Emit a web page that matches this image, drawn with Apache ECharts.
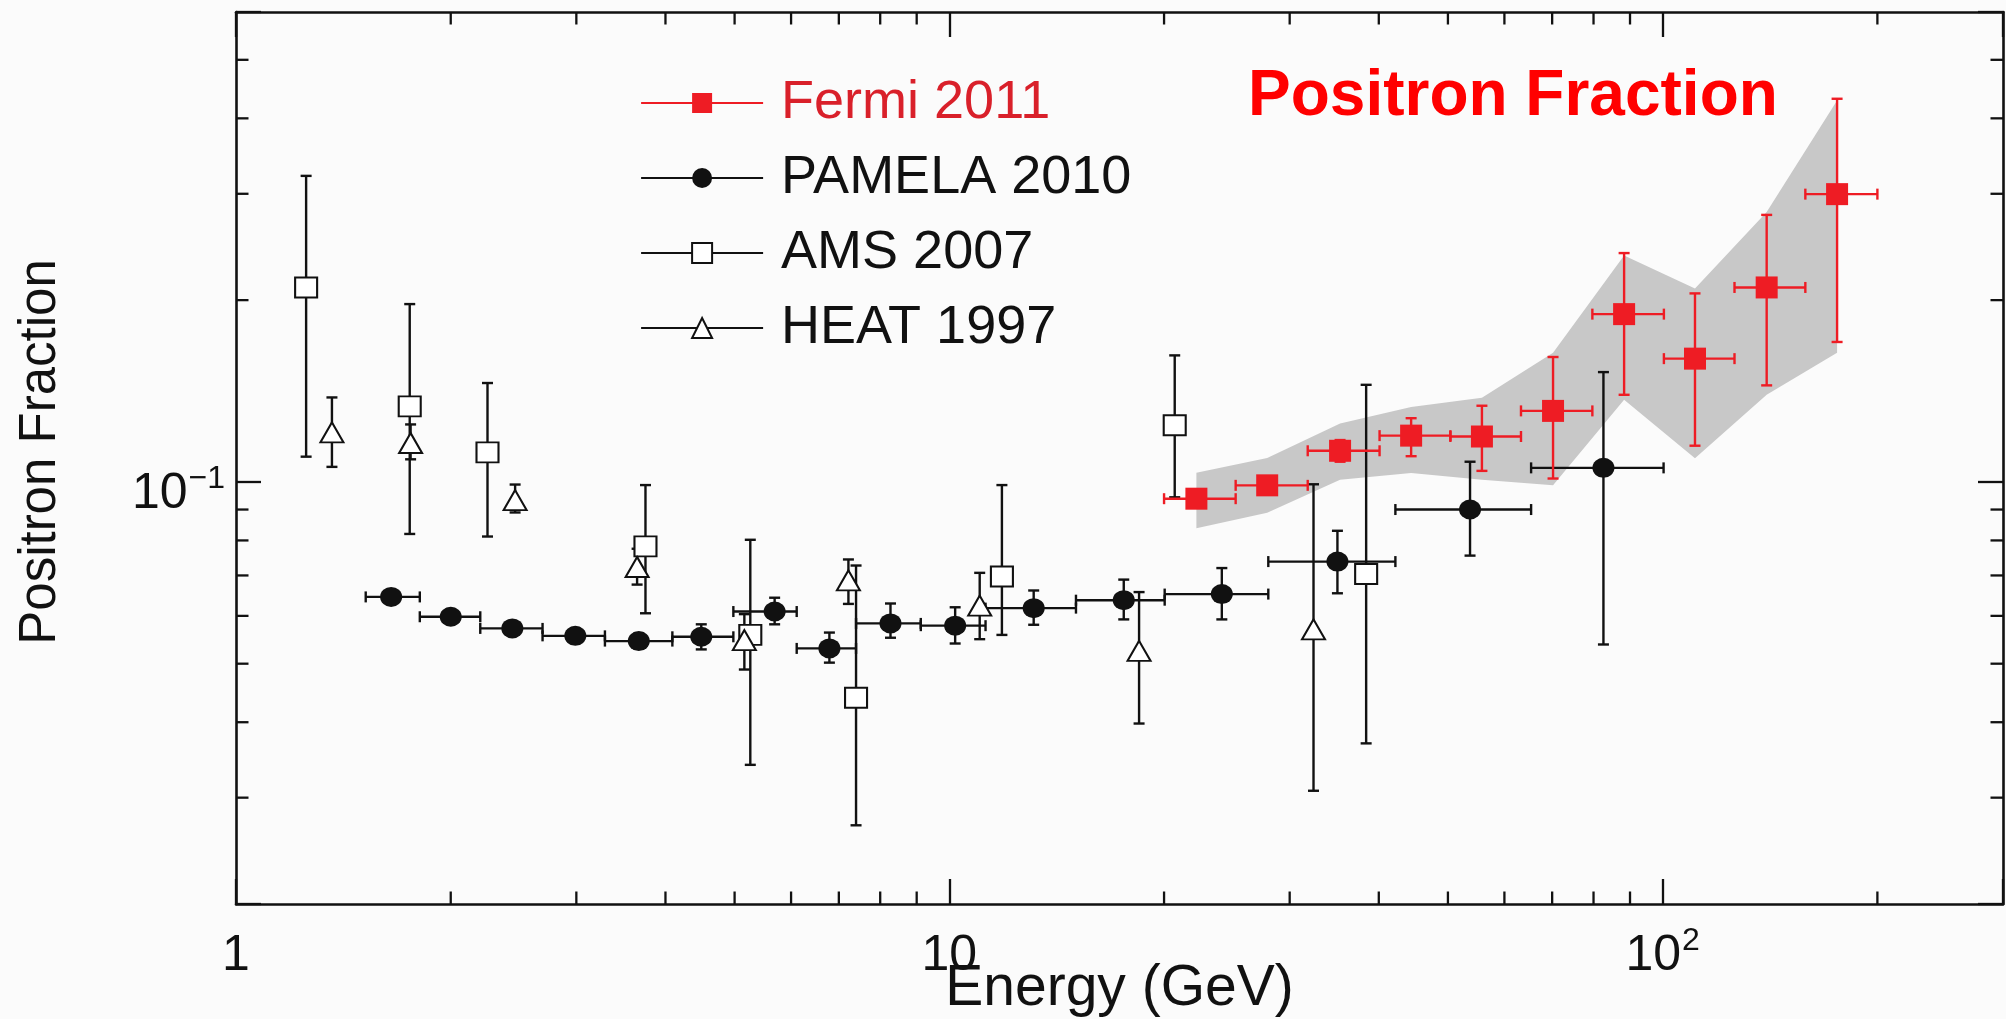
<!DOCTYPE html>
<html>
<head>
<meta charset="utf-8">
<script src="https://cdn.jsdelivr.net/npm/echarts@6/dist/echarts.min.js"></script>
<style>
  html, body { margin: 0; padding: 0; background: #fbfbfb; }
  #chart { width: 2006px; height: 1019px; }
</style>
</head>
<body>
<div id="chart"></div>
<script>
// ---- Fermi 2011 (energy bins in GeV, positron fraction with error bars) ----
const fermiEnergy       = [22.2, 27.9, 35.3, 44.4, 55.8, 70.2, 88.3, 111, 139.9, 175.6];
const fermiEnergyLow    = [20.0, 25.2, 31.8, 40.1, 50.4, 63.3, 79.7, 100.4, 126.1, 158.5];
const fermiEnergyHigh   = [25.2, 31.8, 40.1, 50.4, 63.3, 79.7, 100.4, 126.1, 158.5, 200];
const fermiFraction     = [0.0938, 0.0987, 0.1126, 0.1193, 0.1189, 0.1311, 0.1896, 0.160, 0.2099, 0.2996];
const fermiFractionLow  = [0.0922, 0.0971, 0.1080, 0.1103, 0.1043, 0.1013, 0.1394, 0.1148, 0.1445, 0.1705];
const fermiFractionHigh = [0.0954, 0.1003, 0.1173, 0.1275, 0.1337, 0.1610, 0.2393, 0.2052, 0.2768, 0.4310];

// systematic uncertainty band around the Fermi points
const bandEnergy = [22.2, 27.9, 35.3, 44.4, 55.8, 70.2, 88.3, 111, 139.9, 175.6];
const bandUpper  = [0.1036, 0.1095, 0.125, 0.133, 0.1378, 0.1636, 0.237, 0.209, 0.280, 0.428];
const bandLower  = [0.0838, 0.0889, 0.1008, 0.1035, 0.1008, 0.0987, 0.1368, 0.1094, 0.1394, 0.1636];

// ---- PAMELA 2010 ----
const pamelaEnergy       = [1.65, 2.0, 2.44, 2.99, 3.67, 4.49, 5.69, 6.79, 8.27, 10.19, 13.13, 17.56, 24.1, 35.0, 53.7, 82.6];
const pamelaEnergyLow    = [1.52, 1.81, 2.20, 2.69, 3.29, 4.09, 4.98, 6.11, 7.40, 9.12, 11.24, 15.05, 20.04, 28.0, 42.2, 65.4];
const pamelaEnergyHigh   = [1.81, 2.20, 2.69, 3.29, 4.09, 4.98, 6.11, 7.40, 9.12, 11.24, 15.05, 20.04, 28.0, 42.2, 65.4, 100.3];
const pamelaFraction     = [0.0645, 0.0598, 0.0572, 0.0556, 0.0545, 0.0554, 0.0610, 0.0530, 0.0583, 0.0578, 0.0618, 0.0637, 0.0652, 0.0738, 0.0900, 0.1055];
const pamelaFractionLow  = [0.0628, 0.0582, 0.0557, 0.0541, 0.0530, 0.0528, 0.0581, 0.0502, 0.0552, 0.0540, 0.0580, 0.0592, 0.0592, 0.0654, 0.0755, 0.0538];
const pamelaFractionHigh = [0.0662, 0.0614, 0.0588, 0.0571, 0.0561, 0.0581, 0.0643, 0.0563, 0.0629, 0.0620, 0.0661, 0.0689, 0.0720, 0.0830, 0.1080, 0.1520];

// ---- AMS 2007 ----
const amsEnergy       = [1.254, 1.752, 2.252, 3.75, 5.26, 7.40, 11.85, 20.7, 38.4];
const amsFraction     = [0.2099, 0.1334, 0.1119, 0.0782, 0.0558, 0.0439, 0.0697, 0.1241, 0.0704];
const amsFractionLow  = [0.1101, 0.0820, 0.0812, 0.0606, 0.0340, 0.0270, 0.0558, 0.0943, 0.0369];
const amsFractionHigh = [0.3212, 0.1970, 0.1458, 0.0988, 0.0802, 0.0727, 0.0988, 0.1620, 0.1448];

// ---- HEAT 1997 ----
const heatEnergy       = [1.363, 1.757, 2.462, 3.65, 5.16, 7.22, 11.03, 18.45, 32.4];
const heatFraction     = [0.1208, 0.1160, 0.0933, 0.0723, 0.0547, 0.0687, 0.0624, 0.0525, 0.0570];
const heatFractionLow  = [0.1059, 0.1090, 0.0890, 0.0676, 0.0489, 0.0628, 0.0549, 0.0398, 0.0308];
const heatFractionHigh = [0.1380, 0.1245, 0.0990, 0.0775, 0.0604, 0.0744, 0.0707, 0.0657, 0.0991];

// ---- axes ----
const energyRange   = [1, 300];
const fractionRange = [0.02, 0.6];
const energyTicks    = [1, 10, 100];
const energyTickText = [['1'], ['10'], ['10', '2']];      // [mantissa, exponent]
const fractionTicks    = [0.1];
const fractionTickText = [['10', '\u22121']];
const energyMinorTicks   = [2, 3, 4, 5, 6, 7, 8, 9, 20, 30, 40, 50, 60, 70, 80, 90, 200];
const fractionMinorTicks = [0.03, 0.04, 0.05, 0.06, 0.07, 0.08, 0.09, 0.2, 0.3, 0.4, 0.5];

const RED = '#ee1c24';
const INK = '#111111';
const FONT = '"Liberation Sans", Arial, Helvetica, sans-serif';

function tickFormatter(ticks, texts) {
  return function (v) {
    for (let i = 0; i < ticks.length; i++) {
      if (Math.abs(Math.log10(v) - Math.log10(ticks[i])) < 1e-6) {
        const t = texts[i];
        return t.length > 1 ? '{b|' + t[0] + '}{s|' + t[1] + '}' : '{b|' + t[0] + '}';
      }
    }
    return '';
  };
}

// mantissa sits in a tall line box, exponent is pinned near its top
const labelRich = {
  b: { fontFamily: FONT, fontSize: 50, color: INK, lineHeight: 62 },
  s: { fontFamily: FONT, fontSize: 32, color: INK, verticalAlign: 'top', lineHeight: 26, padding: [0, 0, 0, 1] }
};

function rows(a, b, c, d, e, f) {
  return a.map((v, i) => f ? [v, b[i], c[i], d[i], e[i], f[i]] : [v, b[i], c[i], d[i]]);
}

// vertical (and optional horizontal) error bars with end caps
function errorBars(color, withX) {
  return function (params, api) {
    const x = api.value(0), y = api.value(1);
    const style = { stroke: color, lineWidth: 2.4, fill: null };
    const cap = 5.5;
    const lo = api.coord([x, api.value(2)]);
    const hi = api.coord([x, api.value(3)]);
    const children = [
      { type: 'line', shape: { x1: lo[0], y1: lo[1], x2: hi[0], y2: hi[1] }, style },
      { type: 'line', shape: { x1: lo[0] - cap, y1: lo[1], x2: lo[0] + cap, y2: lo[1] }, style },
      { type: 'line', shape: { x1: hi[0] - cap, y1: hi[1], x2: hi[0] + cap, y2: hi[1] }, style }
    ];
    if (withX) {
      const l = api.coord([api.value(4), y]);
      const r = api.coord([api.value(5), y]);
      children.push(
        { type: 'line', shape: { x1: l[0], y1: l[1], x2: r[0], y2: r[1] }, style },
        { type: 'line', shape: { x1: l[0], y1: l[1] - cap, x2: l[0], y2: l[1] + cap }, style },
        { type: 'line', shape: { x1: r[0], y1: r[1] - cap, x2: r[0], y2: r[1] + cap }, style }
      );
    }
    return { type: 'group', children };
  };
}

function markerSeries(name, xs, ys, symbol, size, color, z, filled) {
  return {
    type: 'line', name, z, silent: true,
    data: xs.map((v, i) => [v, ys[i]]),
    symbol, symbolSize: size, showSymbol: true,
    lineStyle: { width: 0, opacity: 0, color },
    itemStyle: { color, borderColor: color, borderWidth: filled ? 0 : 2.4 },
    emphasis: { disabled: true }
  };
}

const axisLineStyle = { color: INK, width: 2.6 };
const majorTick = { show: true, inside: true, length: 25, lineStyle: { color: INK, width: 2.3 } };

const chart = echarts.init(document.getElementById('chart'), null, { renderer: 'canvas' });

chart.setOption({
  animation: false,
  backgroundColor: '#fbfbfb',
  title: {
    text: 'Positron Fraction',
    left: 1243, top: 60,
    textStyle: { fontFamily: FONT, fontSize: 64, fontWeight: 'bold', color: '#ff0000' }
  },
  legend: {
    orient: 'vertical',
    left: 635, top: 71,
    itemWidth: 122, itemHeight: 25, itemGap: 21,
    selectedMode: false,
    textStyle: { fontFamily: FONT, fontSize: 54, color: INK, padding: [0, 0, 0, 13] },
    lineStyle: { width: 2.2, opacity: 1 },
    data: [
      { name: 'Fermi 2011', textStyle: { color: '#d9202a' } },
      { name: 'PAMELA 2010' },
      { name: 'AMS 2007' },
      { name: 'HEAT 1997' }
    ]
  },
  grid: { left: 236, right: 3, top: 12, bottom: 115, containLabel: false, outerBoundsMode: 'none' },
  xAxis: [
    {
      type: 'log', logBase: 10, min: energyRange[0], max: energyRange[1], position: 'bottom',
      name: 'Energy (GeV)', nameLocation: 'middle', nameGap: 57, nameMoveOverlap: false,
      nameTextStyle: { fontFamily: FONT, fontSize: 57, color: INK },
      axisLine: { show: true, lineStyle: axisLineStyle },
      axisTick: majorTick,
      axisLabel: { show: true, margin: 21, formatter: tickFormatter(energyTicks, energyTickText), rich: labelRich },
      splitLine: { show: false }, minorTick: { show: false }
    },
    {
      type: 'log', logBase: 10, min: energyRange[0], max: energyRange[1], position: 'top',
      axisLine: { show: true, lineStyle: axisLineStyle },
      axisTick: majorTick, axisLabel: { show: false }, splitLine: { show: false }
    }
  ],
  yAxis: [
    {
      type: 'log', logBase: 10, min: fractionRange[0], max: fractionRange[1], position: 'left',
      name: 'Positron Fraction', nameLocation: 'middle', nameGap: 170, nameMoveOverlap: false,
      nameTextStyle: { fontFamily: FONT, fontSize: 51, color: INK, padding: [0, 0, 0, 12] },
      axisLine: { show: true, lineStyle: axisLineStyle },
      axisTick: majorTick,
      axisLabel: { show: true, margin: 11, padding: [24, 0, 0, 0], formatter: tickFormatter(fractionTicks, fractionTickText), rich: labelRich },
      splitLine: { show: false }
    },
    {
      type: 'log', logBase: 10, min: fractionRange[0], max: fractionRange[1], position: 'right',
      axisLine: { show: true, lineStyle: axisLineStyle },
      axisTick: majorTick, axisLabel: { show: false }, splitLine: { show: false }
    }
  ],
  series: [
    {
      // shaded band behind the Fermi points
      type: 'custom', name: 'fermiBand', z: 1, silent: true,
      data: bandEnergy.map((e, i) => [e, bandUpper[i], bandLower[i]]),
      encode: { x: 0, y: [1, 2] },
      renderItem: function (params, api) {
        if (params.dataIndex !== 0) return;
        const pts = [];
        for (let i = 0; i < bandEnergy.length; i++) pts.push(api.coord([bandEnergy[i], bandUpper[i]]));
        for (let i = bandEnergy.length - 1; i >= 0; i--) pts.push(api.coord([bandEnergy[i], bandLower[i]]));
        return { type: 'polygon', shape: { points: pts }, style: { fill: '#c8c8c8' } };
      }
    },
    {
      type: 'custom', name: 'pamelaErrors', z: 3, silent: true,
      data: rows(pamelaEnergy, pamelaFraction, pamelaFractionLow, pamelaFractionHigh, pamelaEnergyLow, pamelaEnergyHigh),
      encode: { x: [0, 4, 5], y: [1, 2, 3] },
      renderItem: errorBars(INK, true)
    },
    {
      type: 'custom', name: 'amsErrors', z: 3, silent: true,
      data: rows(amsEnergy, amsFraction, amsFractionLow, amsFractionHigh),
      encode: { x: 0, y: [1, 2, 3] },
      renderItem: errorBars(INK, false)
    },
    {
      type: 'custom', name: 'heatErrors', z: 3, silent: true,
      data: rows(heatEnergy, heatFraction, heatFractionLow, heatFractionHigh),
      encode: { x: 0, y: [1, 2, 3] },
      renderItem: errorBars(INK, false)
    },
    markerSeries('PAMELA 2010', pamelaEnergy, pamelaFraction, 'circle', [22, 20], INK, 4, true),
    markerSeries('AMS 2007', amsEnergy, amsFraction, 'emptyRect', [22, 20], INK, 4, false),
    markerSeries('HEAT 1997', heatEnergy, heatFraction, 'emptyTriangle', [23, 20], INK, 4, false),
    {
      type: 'custom', name: 'fermiErrors', z: 5, silent: true,
      data: rows(fermiEnergy, fermiFraction, fermiFractionLow, fermiFractionHigh, fermiEnergyLow, fermiEnergyHigh),
      encode: { x: [0, 4, 5], y: [1, 2, 3] },
      renderItem: errorBars(RED, true)
    },
    markerSeries('Fermi 2011', fermiEnergy, fermiFraction, 'rect', [22, 22], RED, 6, true),
    {
      // minor ticks of the log energy axis, bottom and top frame
      type: 'custom', name: 'energyMinor', z: 7, silent: true, clip: false,
      data: energyMinorTicks.map(v => [v, 0.1]),
      renderItem: function (params, api) {
        const px = api.coord([api.value(0), 0.1])[0];
        const cs = params.coordSys;
        const style = { stroke: INK, lineWidth: 2.3 };
        return { type: 'group', children: [
          { type: 'line', shape: { x1: px, y1: cs.y + cs.height, x2: px, y2: cs.y + cs.height - 12.5 }, style },
          { type: 'line', shape: { x1: px, y1: cs.y, x2: px, y2: cs.y + 12.5 }, style }
        ] };
      }
    },
    {
      // minor ticks of the log fraction axis, left and right frame
      type: 'custom', name: 'fractionMinor', z: 7, silent: true, clip: false,
      data: fractionMinorTicks.map(v => [10, v]),
      renderItem: function (params, api) {
        const py = api.coord([10, api.value(1)])[1];
        const cs = params.coordSys;
        const style = { stroke: INK, lineWidth: 2.3 };
        return { type: 'group', children: [
          { type: 'line', shape: { x1: cs.x, y1: py, x2: cs.x + 12.5, y2: py }, style },
          { type: 'line', shape: { x1: cs.x + cs.width, y1: py, x2: cs.x + cs.width - 12.5, y2: py }, style }
        ] };
      }
    }
  ]
});
</script>
</body>
</html>
